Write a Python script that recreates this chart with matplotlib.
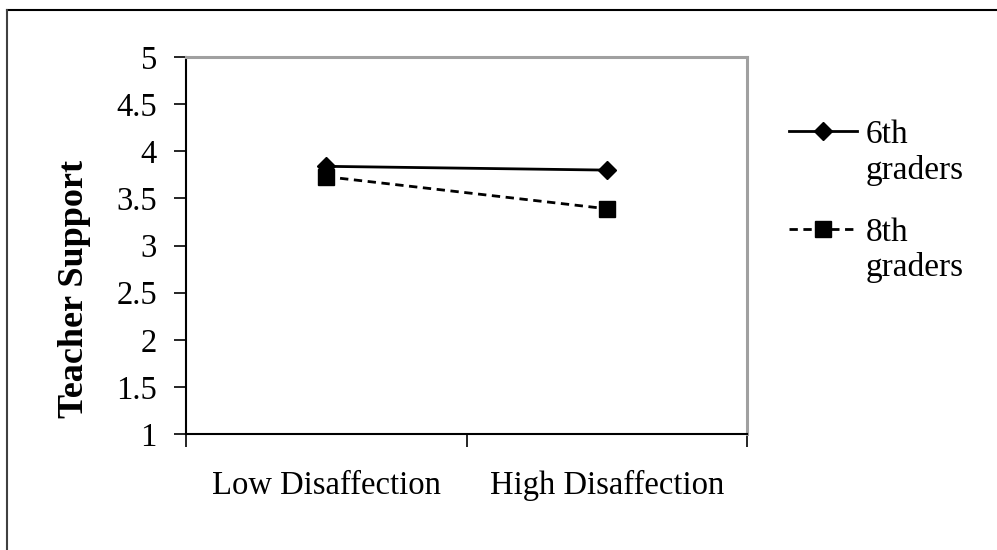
import matplotlib
matplotlib.use("Agg")
from matplotlib import pyplot as plt
from matplotlib.lines import Line2D

categories = ["Low Disaffection", "High Disaffection"]
sixth_graders = [3.84, 3.80]
eighth_graders = [3.73, 3.39]
y_ticks = [1, 1.5, 2, 2.5, 3, 3.5, 4, 4.5, 5]
y_tick_labels = ["1", "1.5", "2", "2.5", "3", "3.5", "4", "4.5", "5"]

plt.rcParams["font.family"] = ["Liberation Serif", "DejaVu Serif"]

fig = plt.figure(figsize=(9.97, 5.5), dpi=100)
ax = fig.add_axes([186 / 997, 1 - 434 / 550, (747 - 186) / 997, (434 - 57) / 550])

x = [0.5, 1.5]
ax.plot(x, sixth_graders, color="black", lw=2, marker="D", markersize=9,
        label="6th\ngraders")
ax.plot(x, eighth_graders, color="black", lw=2, ls=(0, (3, 2)), marker="s",
        markersize=11, label="8th\ngraders")

ax.set_xlim(0, 2)
ax.set_ylim(1, 5)
ax.set_yticks(y_ticks)
ax.set_yticklabels(y_tick_labels)
ax.set_xticks([0, 1, 2])
ax.set_xticklabels([])
ax.set_xticks(x, minor=True)
ax.set_xticklabels(categories, minor=True)
ax.tick_params(axis="x", which="minor", length=0, pad=26, labelsize=23.5)
ax.tick_params(axis="x", which="major", length=9, width=1.2, direction="out")
ax.tick_params(axis="y", length=9, width=1.2, labelsize=23.5, pad=12)

for side in ["left", "bottom"]:
    ax.spines[side].set_color("black")
    ax.spines[side].set_linewidth(1.5)
for side in ["top", "right"]:
    ax.spines[side].set_color("#a0a0a0")
    ax.spines[side].set_linewidth(2.2)

ax.set_ylabel("Teacher Support", fontsize=26, fontweight="bold")
ax.yaxis.set_label_coords(-0.17, 0.385)

leg = ax.legend(loc="upper left", bbox_to_anchor=(1.051, 0.869), frameon=False,
                fontsize=24, handlelength=2.05, handletextpad=0.25,
                labelspacing=0.93, borderaxespad=0)
# put each handle level with the first line of its label
for col in leg._legend_handle_box.get_children():
    for row in col.get_children():
        row.align = "top"

# outer frame
fig.add_artist(Line2D([7 / 997, 1], [1 - 10 / 550, 1 - 10 / 550],
                      transform=fig.transFigure, color="black", lw=1.5))
fig.add_artist(Line2D([7 / 997, 7 / 997], [0, 1 - 10 / 550],
                      transform=fig.transFigure, color="#404040", lw=1.5))

fig.savefig("out.png", dpi=100)
